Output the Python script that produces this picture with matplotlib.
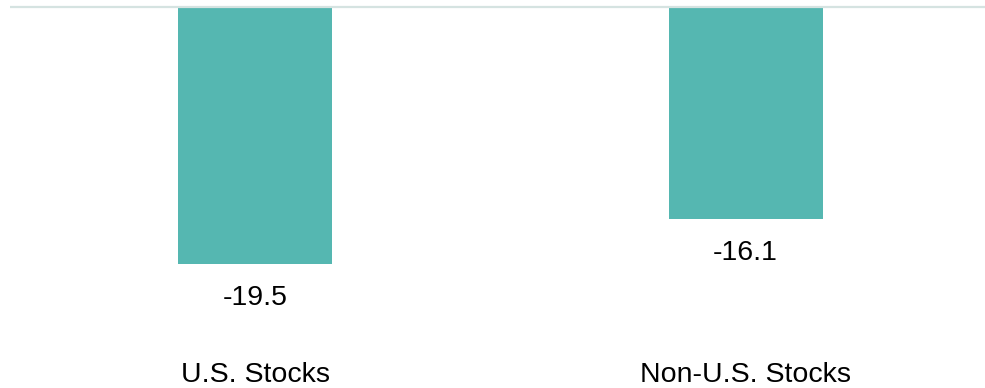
import matplotlib
matplotlib.use("Agg")
import matplotlib.pyplot as plt
import matplotlib.transforms as mtransforms

categories = ["U.S. Stocks", "Non-U.S. Stocks"]
values = [-19.5, -16.1]
value_labels = ["-19.5", "-16.1"]

plt.rcParams["font.family"] = ["Liberation Sans", "DejaVu Sans"]

fig = plt.figure(figsize=(9.85, 3.88), dpi=100)
ax = fig.add_axes([10 / 985, 0, 975 / 985, 1])

x = list(range(len(categories)))
ax.bar(x, values, width=0.314, color="#55B7B1", zorder=2)
ax.axhline(0, color="#D5E3E1", linewidth=1.6, zorder=3)

ax.set_xlim(-0.4995, 1.488)
ax.set_ylim(-28.91, 0.53)

for xi, v, lab in zip(x, values, value_labels):
    ax.annotate(lab, (xi, v), xytext=(0, -24.5), textcoords="offset points",
                ha="center", va="center", fontsize=20.5, color="#000000")

trans = mtransforms.blended_transform_factory(ax.transData, fig.transFigure)
for xi, cat in zip(x, categories):
    ax.text(xi, 1 - 374.5 / 388, cat, transform=trans, ha="center", va="center",
            fontsize=20.5, color="#000000")

ax.axis("off")
fig.savefig("out.png", dpi=100)
